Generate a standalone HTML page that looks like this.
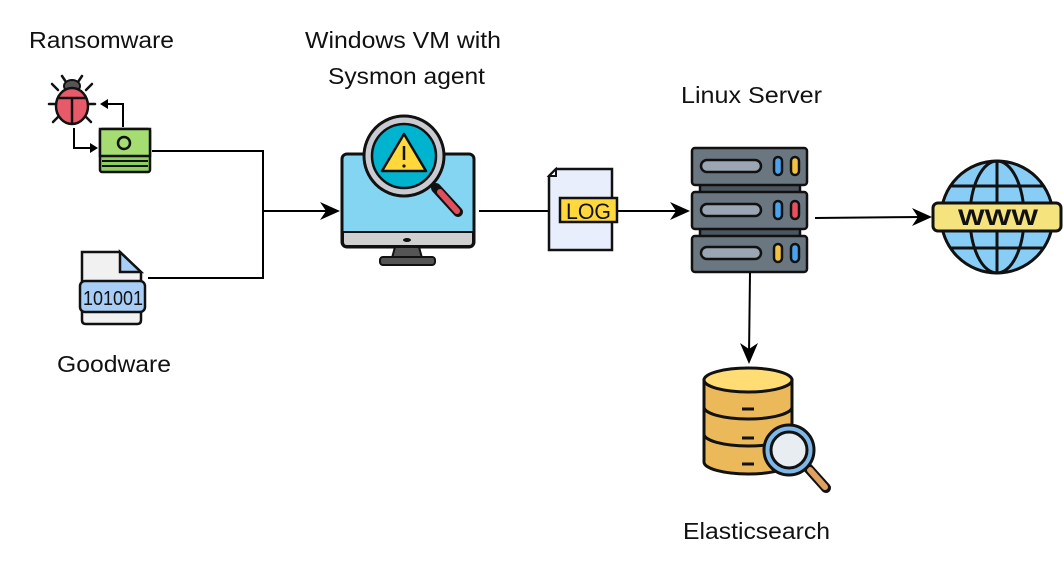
<!DOCTYPE html>
<html><head><meta charset="utf-8"><style>
html,body{margin:0;padding:0;background:#fff;}
svg{display:block;}
text{font-family:"Liberation Sans",Arial,sans-serif;font-size:23px;fill:#111;}
</style></head><body>
<svg width="1063" height="568" viewBox="0 0 1063 568" xmlns="http://www.w3.org/2000/svg">
<!-- labels -->
<text x="29" y="48" textLength="145" lengthAdjust="spacingAndGlyphs">Ransomware</text>
<text x="305" y="48" textLength="196" lengthAdjust="spacingAndGlyphs">Windows VM with</text>
<text x="328" y="84" textLength="157" lengthAdjust="spacingAndGlyphs">Sysmon agent</text>
<text x="681" y="103" textLength="141" lengthAdjust="spacingAndGlyphs">Linux Server</text>
<text x="57" y="372" textLength="114" lengthAdjust="spacingAndGlyphs">Goodware</text>
<text x="683" y="539" textLength="147" lengthAdjust="spacingAndGlyphs">Elasticsearch</text>

<!-- connectors -->
<g stroke="#000" stroke-width="2" fill="none">
<path d="M152,151 H263 V278 H148"/>
<path d="M263,211 H330"/>
<path d="M479,211 H550"/>
<path d="M617,211 H680"/>
<path d="M815,218 L922,217"/>
<path d="M750,273 L749,355"/>
</g>
<g>
<path d="M320,202 L340,211 L320,220 L326,211Z" fill="#000"/>
<path d="M670,202 L690,211 L670,220 L676,211Z" fill="#000"/>
<path d="M912,208 L932,217 L912,226 L918,217Z" fill="#000"/>
<path d="M740,343 L749,364 L758,343 L749,349Z" fill="#000"/>
</g>

<!-- bug -->
<g stroke="#111" stroke-width="2.5" stroke-linecap="round">
<line x1="58" y1="90" x2="52" y2="84"/><line x1="86" y1="90" x2="92" y2="84"/>
<line x1="55" y1="104" x2="49" y2="104"/><line x1="89" y1="104" x2="95" y2="104"/>
<line x1="58" y1="117" x2="53" y2="122"/><line x1="86" y1="117" x2="91" y2="122"/>
<line x1="66" y1="82" x2="62" y2="76"/><line x1="78" y1="82" x2="82" y2="76"/>
</g>
<ellipse cx="72" cy="86" rx="8" ry="6" fill="#555" stroke="#111" stroke-width="2"/>
<ellipse cx="72" cy="106" rx="16" ry="18" fill="#e85a6a" stroke="#111" stroke-width="2.5"/>
<path d="M57,98 H87 M72,98 V123" stroke="#111" stroke-width="2.5"/>
<path d="M74,128 V148 H92" stroke="#000" stroke-width="2" fill="none"/>
<path d="M90,143 L98,148 L90,153Z" fill="#000"/>
<path d="M123,127 V104 H106" stroke="#000" stroke-width="2" fill="none"/>
<path d="M108,99 L100,104 L108,109Z" fill="#000"/>
<!-- money -->
<rect x="100" y="129" width="50" height="43" fill="#8fcf5d" stroke="#111" stroke-width="2.5" rx="2"/>
<rect x="100" y="129" width="50" height="27" fill="#a6dd73" stroke="#111" stroke-width="2.5"/>
<circle cx="124" cy="143" r="6" fill="#a6dd73" stroke="#111" stroke-width="2.5"/>
<path d="M102,161 H148 M102,166 H148" stroke="#111" stroke-width="2"/>

<!-- goodware file -->
<path d="M82,252 H120 L141,272 V320 Q141,324 137,324 H86 Q82,324 82,320 Z" fill="#f1f1f1" stroke="#111" stroke-width="2.5"/>
<path d="M120,252 V272 H141 Z" fill="#a8cef5" stroke="#111" stroke-width="2.5"/>
<rect x="80" y="281" width="65" height="31" rx="5" fill="#a8cef5" stroke="#111" stroke-width="2.5"/>
<text x="83" y="305" style="font-size:20px" textLength="60" lengthAdjust="spacingAndGlyphs">101001</text>

<!-- monitor -->
<rect x="342" y="154" width="132" height="93" rx="5" fill="#84d5f1" stroke="#111" stroke-width="3"/>
<path d="M343,232 H473 V242 Q473,246 469,246 H347 Q343,246 343,242Z" fill="#d0d0d0" stroke="#111" stroke-width="2"/>
<ellipse cx="407" cy="240" rx="4" ry="2" fill="#111"/>
<path d="M395,247 L392,258 H422 L419,247Z" fill="#555" stroke="#111" stroke-width="2"/>
<rect x="380" y="257" width="55" height="8" rx="3" fill="#555" stroke="#111" stroke-width="2"/>
<line x1="436" y1="188" x2="458" y2="212" stroke="#111" stroke-width="10" stroke-linecap="round"/>
<line x1="440" y1="192" x2="457" y2="211" stroke="#e0505c" stroke-width="6" stroke-linecap="round"/>
<circle cx="404" cy="156" r="40" fill="#c9cbd0" stroke="#111" stroke-width="3"/>
<circle cx="404" cy="156" r="32" fill="#00b4d0" stroke="#111" stroke-width="2.5"/>
<path d="M404,134 L426,171 H382Z" fill="#ffd93b" stroke="#111" stroke-width="2.5" stroke-linejoin="round"/>
<line x1="404" y1="146" x2="404" y2="160" stroke="#111" stroke-width="2.5"/>
<circle cx="404" cy="166" r="1.6" fill="#111"/>

<!-- log file -->
<path d="M556,169 H612 V250 H549 V176 Z" fill="#e8eefb" stroke="#111" stroke-width="2.5"/>
<path d="M556,169 V176 H549Z" fill="#fff" stroke="#111" stroke-width="2"/>
<rect x="560" y="198" width="57" height="24" fill="#ffd93b" stroke="#111" stroke-width="2.5"/>
<text x="566" y="219" style="font-size:22px" textLength="45" lengthAdjust="spacingAndGlyphs">LOG</text>

<!-- server -->
<g stroke="#111" stroke-width="2.5">
<rect x="700" y="182" width="100" height="12" fill="#4b565e"/>
<rect x="700" y="226" width="100" height="12" fill="#4b565e"/>
<rect x="692" y="148" width="115" height="37" rx="3" fill="#6a7780"/>
<rect x="692" y="192" width="115" height="37" rx="3" fill="#6a7780"/>
<rect x="692" y="236" width="115" height="36" rx="3" fill="#6a7780"/>
<rect x="701" y="160" width="60" height="12" rx="6" fill="#9aa6b3"/>
<rect x="701" y="204" width="60" height="12" rx="6" fill="#9aa6b3"/>
<rect x="701" y="247" width="60" height="12" rx="6" fill="#9aa6b3"/>
<rect x="774" y="157" width="8" height="18" rx="4" fill="#4aa3ee"/>
<rect x="791" y="157" width="8" height="18" rx="4" fill="#f2c341"/>
<rect x="774" y="201" width="8" height="18" rx="4" fill="#4aa3ee"/>
<rect x="791" y="201" width="8" height="18" rx="4" fill="#e9505c"/>
<rect x="774" y="244" width="8" height="18" rx="4" fill="#f2c341"/>
<rect x="791" y="244" width="8" height="18" rx="4" fill="#4aa3ee"/>
</g>

<!-- globe -->
<g stroke="#111" stroke-width="3" fill="none">
<circle cx="997" cy="217" r="56" fill="#88cdf5"/>
<ellipse cx="997" cy="217" rx="27" ry="56"/>
<line x1="997" y1="161" x2="997" y2="273"/>
<line x1="950" y1="186" x2="1044" y2="186"/>
<line x1="950" y1="248" x2="1044" y2="248"/>
</g>
<rect x="933" y="203" width="128" height="28" rx="5" fill="#f5e37e" stroke="#111" stroke-width="3"/>
<text x="958" y="225" style="font-size:22px;font-weight:bold" textLength="80" lengthAdjust="spacingAndGlyphs">WWW</text>

<!-- database -->
<g stroke="#111" stroke-width="3">
<path d="M704,380 V462 A44,12 0 0 0 792,462 V380Z" fill="#ebb95a"/>
<path d="M704,407 A44,12 0 0 0 792,407 M704,434 A44,12 0 0 0 792,434" fill="none"/>
<ellipse cx="748" cy="380" rx="44" ry="12" fill="#ffdd74"/>
<line x1="742" y1="409" x2="754" y2="409"/>
<line x1="742" y1="438" x2="754" y2="438"/>
<line x1="742" y1="464" x2="754" y2="464"/>
<line x1="808" y1="468" x2="826" y2="488" stroke-width="10" stroke-linecap="round"/>
<line x1="810" y1="470" x2="825" y2="487" stroke="#e0a060" stroke-width="6" stroke-linecap="round"/>
<circle cx="789" cy="450" r="25" fill="#7fb8e6"/>
<circle cx="789" cy="450" r="18" fill="#e8edf2"/>
</g>
</svg>
</body></html>
